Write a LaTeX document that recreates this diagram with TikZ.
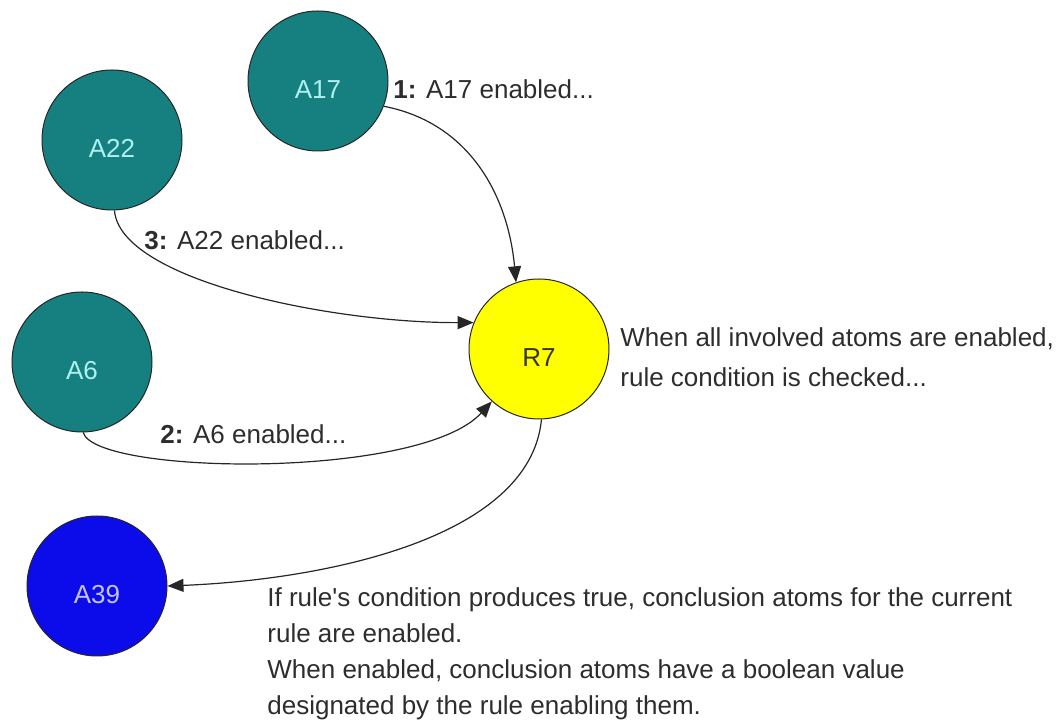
\documentclass[tikz,border=0pt]{standalone}
\usepackage{fontspec}
\setmainfont{Liberation Sans}
\usetikzlibrary{arrows.meta}

\definecolor{atomteal}{RGB}{22,128,128}
\definecolor{atomblue}{RGB}{12,12,235}
\definecolor{ruleyellow}{RGB}{255,255,0}
\definecolor{atomtext}{RGB}{175,240,240}
\definecolor{bluetext}{RGB}{195,195,255}
\definecolor{notetext}{RGB}{45,45,45}

\tikzset{
    atom/.style={circle, draw=black!85, line width=0.5pt, minimum size=70pt, inner sep=0pt,
        fill=atomteal, text=atomtext, text height=1.8em, text depth=0pt},
    edge/.style={draw=black!85, line width=0.6pt, -{Triangle[length=8pt,width=6.5pt]}},
    note/.style={text=notetext, inner sep=0pt, align=left}
}

\begin{document}
\begin{tikzpicture}[x=0.5pt, y=-0.5pt, font=\fontsize{13}{18}\selectfont]
        \useasboundingbox (0,0) rectangle (1062,726);

        \node[atom] (a17) at (318,81) {A17};
        \node[atom] (a22) at (112,140) {A22};
        \node[atom] (a6) at (82,362) {A6};
        \node[atom, fill=ruleyellow, text=black!80] (r7) at (539,349) {R7};
        \node[atom, fill=atomblue, text=bluetext] (a39) at (97,586) {A39};

        \draw[edge] (a17.-21) .. controls (470,123) and (508,196) .. (r7.109);
        \draw[edge] (a22.-88) .. controls (120,280) and (330,323) .. (r7.158);
        \draw[edge] (a6.-89) .. controls (95,475) and (420,480) .. (r7.-132);
        \draw[edge] (r7.-88) .. controls (530,540) and (320,580) .. (a39.0);

        \node[note, anchor=west] (lbl1) at (393,89) {\textbf{1:} A17 enabled...};
        \node[note, anchor=west] (lbl3) at (144,240) {\textbf{3:} A22 enabled...};
        \node[note, anchor=west] (lbl2) at (160,434) {\textbf{2:} A6 enabled...};

        \node[note, anchor=west, font=\fontsize{13}{20}\selectfont] (check) at (620,357)
            {When all involved atoms are enabled,\\rule condition is checked...};
        \node[note, anchor=west] (concl) at (267,654)
            {If rule\textquotesingle s condition produces true, conclusion atoms for the current\\rule are enabled.\\
             When enabled, conclusion atoms have a boolean value\\designated by the rule enabling them.};
    \end{tikzpicture}
\end{document}
